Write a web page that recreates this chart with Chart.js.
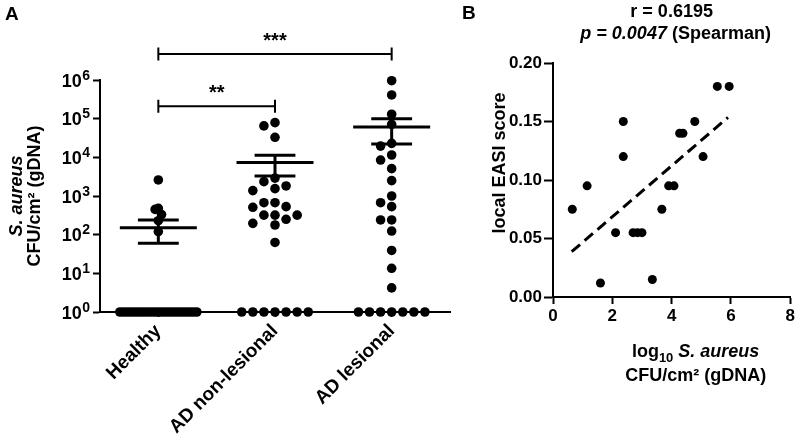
<!DOCTYPE html>
<html>
<head>
<meta charset="utf-8">
<title>S. aureus burden and local EASI</title>
<script src="https://cdn.jsdelivr.net/npm/chart.js@4.4.1/dist/chart.umd.min.js"></script>
<style>
  html, body { margin: 0; padding: 0; background: #fff; }
  #figure { position: relative; width: 797px; height: 439px; overflow: hidden; background: #fff; }
  canvas { position: absolute; top: 0; }
  #chartA { left: 0; }
  #chartB { left: 455px; }
</style>
</head>
<body>
<div id="figure">
  <canvas id="chartA" width="455" height="439"></canvas>
  <canvas id="chartB" width="342" height="439"></canvas>
</div>
<script>
(function(){
    const FONT = '"Liberation Sans", Arial, Helvetica, sans-serif';

    // ---- Panel A: S. aureus CFU/cm² per sample (undetected samples sit at 10^0) ----
    const categories = ['Healthy', 'AD non-lesional', 'AD lesional'];
    const healthyCFU = [2600, 480, 450, 330, 230, 120,
        1, 1, 1, 1, 1, 1, 1, 1, 1, 1, 1, 1, 1, 1, 1, 1, 1, 1, 1, 1, 1, 1, 1, 1, 1];
    const nonLesionalCFU = [79000, 65000, 33000, 2900, 2350, 1820, 1550, 1380, 670, 670,
        530, 510, 320, 320, 320, 250, 196, 178, 63,
        1, 1, 1, 1, 1, 1, 1];
    const lesionalCFU = [960000, 410000, 130000, 71000, 23000, 19500, 11500, 8500, 5100, 2500,
        1000, 670, 530, 240, 240, 124, 39, 13.5, 4.2,
        1, 1, 1, 1, 1, 1, 1];
    const groupMean = [150, 7300, 61000];
    const groupSEM = [90, 4000, 39000];
    const yExponents = [0, 1, 2, 3, 4, 5, 6];
    const comparisons = [
        { from: 0, to: 1, label: '**',  at: 2.1e5 },
        { from: 0, to: 2, label: '***', at: 4.7e6 }
    ];

    // ---- Panel B: local EASI vs log10 CFU ----
    const logCFU = [0.65, 1.15, 1.6, 2.11, 2.37, 2.37, 2.7, 2.85, 3.0, 3.35,
        3.67, 3.9, 4.08, 4.27, 4.38, 4.78, 5.06, 5.54, 5.94];
    const easiScore = [0.075, 0.095, 0.012, 0.055, 0.12, 0.15, 0.055, 0.055, 0.055, 0.015,
        0.075, 0.095, 0.095, 0.14, 0.14, 0.15, 0.12, 0.18, 0.18];
    const fitLogCFU = [0.63, 5.9];
    const fitEasi = [0.0387, 0.1535];
    const statR = 'r = 0.6195';
    const statP = '0.0047';

    // column scatter layout (lanes like Prism)
    const LANE_STEP = 0.095, HALF_WIDTH = 0.33, MIN_GAP = 0.24;
    const MEAN_HALF = 0.33, SEM_HALF = 0.175;

    function swarm(values, center){
        const placed = [];
        values.forEach(v => {
            const lv = Math.log10(v);
            for(let k = 0; ; k++){
                const lane = k === 0 ? 0 : (k % 2 ? -(k + 1) / 2 : k / 2);
                if(!placed.some(p => p.lane === lane && Math.abs(p.lv - lv) < MIN_GAP)){
                    placed.push({ lane, lv, v });
                    break;
                }
            }
        });
        const widest = Math.max(1, ...placed.map(p => Math.abs(p.lane)));
        const step = Math.min(LANE_STEP, HALF_WIDTH / widest);
        return placed.map(p => ({ x: center + p.lane * step, y: p.v }));
    }

    const meanLine = [], semLines = [];
    groupMean.forEach((m, i) => {
        const hi = m + groupSEM[i], lo = m - groupSEM[i];
        meanLine.push({x: i - MEAN_HALF, y: m}, {x: i + MEAN_HALF, y: m}, {x: i, y: null});
        semLines.push({x: i - SEM_HALF, y: hi}, {x: i + SEM_HALF, y: hi}, {x: i, y: null},
                      {x: i - SEM_HALF, y: lo}, {x: i + SEM_HALF, y: lo}, {x: i, y: null},
                      {x: i, y: hi}, {x: i, y: lo}, {x: i, y: null});
    });

    Chart.defaults.font.family = FONT;
    Chart.defaults.color = '#000';

    function dots(data, r){
        return { data, pointRadius: r, pointHoverRadius: r, backgroundColor: '#000', borderWidth: 0, clip: false };
    }
    function segs(data, width){
        return { data, showLine: true, pointRadius: 0, borderColor: '#000', borderWidth: width, spanGaps: false, clip: false };
    }

    function rotatedText(ctx, text, x, y, font){
        ctx.save();
        ctx.translate(x, y);
        ctx.rotate(-Math.PI / 2);
        ctx.font = font;
        ctx.textAlign = 'center';
        ctx.textBaseline = 'middle';
        ctx.fillText(text, 0, 0);
        ctx.restore();
    }

    // draws runs of differently styled text centred on x
    function textRuns(ctx, parts, x, y){
        let w = 0;
        parts.forEach(p => { ctx.font = p.font; w += ctx.measureText(p.t).width; });
        let cx = x - w / 2;
        ctx.textAlign = 'left';
        ctx.textBaseline = 'alphabetic';
        parts.forEach(p => {
            ctx.font = p.font;
            ctx.fillText(p.t, cx, y + (p.dy || 0));
            cx += ctx.measureText(p.t).width;
        });
    }

    const panelADecor = {
        id: 'panelADecor',
        afterDatasetsDraw(chart){
            const { ctx, chartArea: a, scales: { x, y } } = chart;
            ctx.save();
            ctx.strokeStyle = '#000';
            ctx.fillStyle = '#000';
            ctx.lineWidth = 2;
            comparisons.forEach(c => {
                const x1 = x.getPixelForValue(c.from), x2 = x.getPixelForValue(c.to);
                const yy = y.getPixelForValue(c.at);
                ctx.beginPath();
                ctx.moveTo(x1, yy); ctx.lineTo(x2, yy);
                ctx.moveTo(x1, yy - 6.5); ctx.lineTo(x1, yy + 6.5);
                ctx.moveTo(x2, yy - 6.5); ctx.lineTo(x2, yy + 6.5);
                ctx.stroke();
                ctx.font = 'bold 20px ' + FONT;
                ctx.textAlign = 'center';
                ctx.textBaseline = 'alphabetic';
                ctx.fillText(c.label, (x1 + x2) / 2, yy - 7);
            });

            // power-of-ten tick labels with raised exponent
            ctx.textAlign = 'right';
            y.ticks.forEach(t => {
                const py = y.getPixelForValue(t.value);
                const e = String(Math.round(Math.log10(t.value)));
                ctx.font = 'bold 14px ' + FONT;
                ctx.fillText(e, a.left - 10, py - 0.5);
                const ew = ctx.measureText(e).width;
                ctx.font = 'bold 18px ' + FONT;
                ctx.fillText('10', a.left - 10.5 - ew, py + 6.5);
            });

            ctx.font = 'bold 19px ' + FONT;
            ctx.textAlign = 'left';
            ctx.fillText('A', 5, 20);
            const cy = (a.top + a.bottom) / 2;
            rotatedText(ctx, 'S. aureus', a.left - 83, cy, 'italic bold 18px ' + FONT);
            rotatedText(ctx, 'CFU/cm\u00B2 (gDNA)', a.left - 65, cy, 'bold 18px ' + FONT);
            ctx.restore();
        }
    };

    new Chart(document.getElementById('chartA'), {
        type: 'scatter',
        data: {
            datasets: [
                dots(swarm(healthyCFU, 0), 4.8),
                dots(swarm(nonLesionalCFU, 1), 4.8),
                dots(swarm(lesionalCFU, 2), 4.8),
                segs(meanLine, 3),
                segs(semLines, 3)
            ]
        },
        options: {
            responsive: false,
            animation: false,
            events: [],
            layout: { padding: { top: 80, right: 5, left: 0, bottom: 0 } },
            plugins: { legend: { display: false }, tooltip: { enabled: false } },
            scales: {
                x: {
                    type: 'linear', min: -0.5, max: 2.5,
                    afterBuildTicks: s => { s.ticks = categories.map((c, i) => ({ value: i })); },
                    afterFit: s => { s.height = 127; },
                    ticks: {
                        callback: v => categories[v],
                        autoSkip: false, minRotation: 45, maxRotation: 45,
                        color: '#000', padding: 3,
                        font: { family: FONT, size: 19, weight: 'bold' }
                    },
                    grid: { drawOnChartArea: false, tickLength: 5, tickColor: '#000', tickWidth: 2 },
                    border: { color: '#000', width: 2 }
                },
                y: {
                    type: 'logarithmic', min: 1, max: 1e6,
                    afterBuildTicks: s => { s.ticks = yExponents.map(e => ({ value: Math.pow(10, e) })); },
                    afterFit: s => { s.width = 100; },
                    ticks: { display: false },
                    grid: { drawOnChartArea: false, tickLength: 7, tickColor: '#000', tickWidth: 2 },
                    border: { color: '#000', width: 2 }
                }
            }
        },
        plugins: [panelADecor]
    });

    const panelBDecor = {
        id: 'panelBDecor',
        afterDatasetsDraw(chart){
            const { ctx, chartArea: a } = chart;
            ctx.save();
            ctx.fillStyle = '#000';
            ctx.font = 'bold 19px ' + FONT;
            ctx.textAlign = 'left';
            ctx.textBaseline = 'alphabetic';
            ctx.fillText('B', 7, 19);
            const mid = (a.left + a.right) / 2;
            textRuns(ctx, [{ t: statR, font: 'bold 18px ' + FONT }], mid, 17);
            textRuns(ctx, [
                { t: 'p = ' + statP, font: 'italic bold 18px ' + FONT },
                { t: ' (Spearman)', font: 'bold 18px ' + FONT }
            ], mid + 4, 39);
            rotatedText(ctx, 'local EASI score', a.left - 53, a.top + 100, 'bold 18px ' + FONT);
            const tx = mid + 24;
            textRuns(ctx, [
                { t: 'log', font: 'bold 18px ' + FONT },
                { t: '10', font: 'bold 13px ' + FONT, dy: 5 },
                { t: ' S. aureus', font: 'italic bold 18px ' + FONT }
            ], tx, a.bottom + 60);
            textRuns(ctx, [{ t: 'CFU/cm\u00B2 (gDNA)', font: 'bold 18px ' + FONT }], tx, a.bottom + 84);
            ctx.restore();
        }
    };

    new Chart(document.getElementById('chartB'), {
        type: 'scatter',
        data: {
            datasets: [
                dots(logCFU.map((x, i) => ({ x, y: easiScore[i] })), 4.5),
                Object.assign(segs(fitLogCFU.map((x, i) => ({ x, y: fitEasi[i] })), 3), { borderDash: [11, 6] })
            ]
        },
        options: {
            responsive: false,
            animation: false,
            events: [],
            layout: { padding: { top: 63, right: 5, left: 0, bottom: 0 } },
            plugins: { legend: { display: false }, tooltip: { enabled: false } },
            scales: {
                x: {
                    type: 'linear', min: 0, max: 8,
                    afterFit: s => { s.height = 142; },
                    ticks: { stepSize: 2, color: '#000', padding: 2, font: { family: FONT, size: 17, weight: 'bold' } },
                    grid: { drawOnChartArea: false, tickLength: 7, tickColor: '#000', tickWidth: 2 },
                    border: { color: '#000', width: 2 }
                },
                y: {
                    type: 'linear', min: 0, max: 0.2,
                    afterFit: s => { s.width = 98; },
                    ticks: { stepSize: 0.05, callback: v => v.toFixed(2), color: '#000', padding: 2,
                             font: { family: FONT, size: 17, weight: 'bold' } },
                    grid: { drawOnChartArea: false, tickLength: 9, tickColor: '#000', tickWidth: 2 },
                    border: { color: '#000', width: 2 }
                }
            }
        },
        plugins: [panelBDecor]
    });
})();
</script>
</body>
</html>
